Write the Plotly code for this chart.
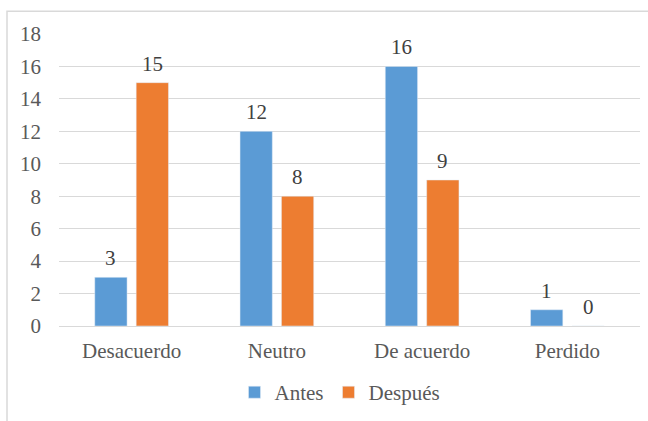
import plotly.graph_objects as go

categories = ["Desacuerdo", "Neutro", "De acuerdo", "Perdido"]
antes = [3, 12, 16, 1]
despues = [15, 8, 9, 0]
y_ticks = [0, 2, 4, 6, 8, 10, 12, 14, 16, 18]

BLUE = "#5B9BD5"
ORANGE = "#ED7D31"
FONT = "'Times New Roman', 'Liberation Serif', serif"
TXT = "#595959"

W, H = 648, 421
ML, MR, MT, MB = 59, 8, 34, 93
PW, PH = W - ML - MR, H - MT - MB
BARGAP = 0.43

fig = go.Figure()
fig.add_trace(go.Bar(name="Antes", x=categories, y=antes, marker_color=BLUE))
fig.add_trace(go.Bar(name="Después", x=categories, y=despues, marker_color=ORANGE))

# value labels above each bar (bar centres sit a quarter of the group width off the category)
half = (1 - BARGAP) / 4
for si, vals in enumerate([antes, despues]):
    shift = -half if si == 0 else half
    for ci, v in enumerate(vals):
        fig.add_annotation(
            x=ci + shift, y=v, xref="x", yref="y", text=str(v), showarrow=False,
            yanchor="bottom", yshift=5,
            font=dict(family=FONT, size=21, color="#404040"),
        )

# outer chart border
fig.add_shape(
    type="rect", xref="paper", yref="paper",
    x0=(7 - ML) / PW, x1=(W + 5 - ML) / PW,
    y0=-(MB + 10) / PH, y1=(PH + MT - 11) / PH,
    line=dict(color="#D9D9D9", width=1.5), fillcolor="rgba(0,0,0,0)",
)

fig.update_layout(
    width=W, height=H,
    margin=dict(l=ML, r=MR, t=MT, b=MB),
    paper_bgcolor="white", plot_bgcolor="white",
    barmode="group", bargap=BARGAP, bargroupgap=0.22,
    font=dict(family=FONT, size=21, color=TXT),
    showlegend=True,
    legend=dict(
        orientation="h", x=(340 - ML) / PW, xanchor="center",
        y=-(395 - (MT + PH)) / PH, yanchor="middle",
        font=dict(family=FONT, size=21, color=TXT),
        itemwidth=30, traceorder="normal",
    ),
    xaxis=dict(
        showline=True, linecolor="#D9D9D9", linewidth=1,
        ticks="", ticklabelstandoff=6,
        tickfont=dict(family=FONT, size=21, color=TXT),
    ),
    yaxis=dict(
        range=[0, 18], tickvals=y_ticks,
        showgrid=True, gridcolor="#D9D9D9", gridwidth=1,
        zeroline=False, showline=False, ticks="",
        ticklabelstandoff=17,
        tickfont=dict(family=FONT, size=21, color=TXT),
    ),
)

fig.write_html("out.html")
